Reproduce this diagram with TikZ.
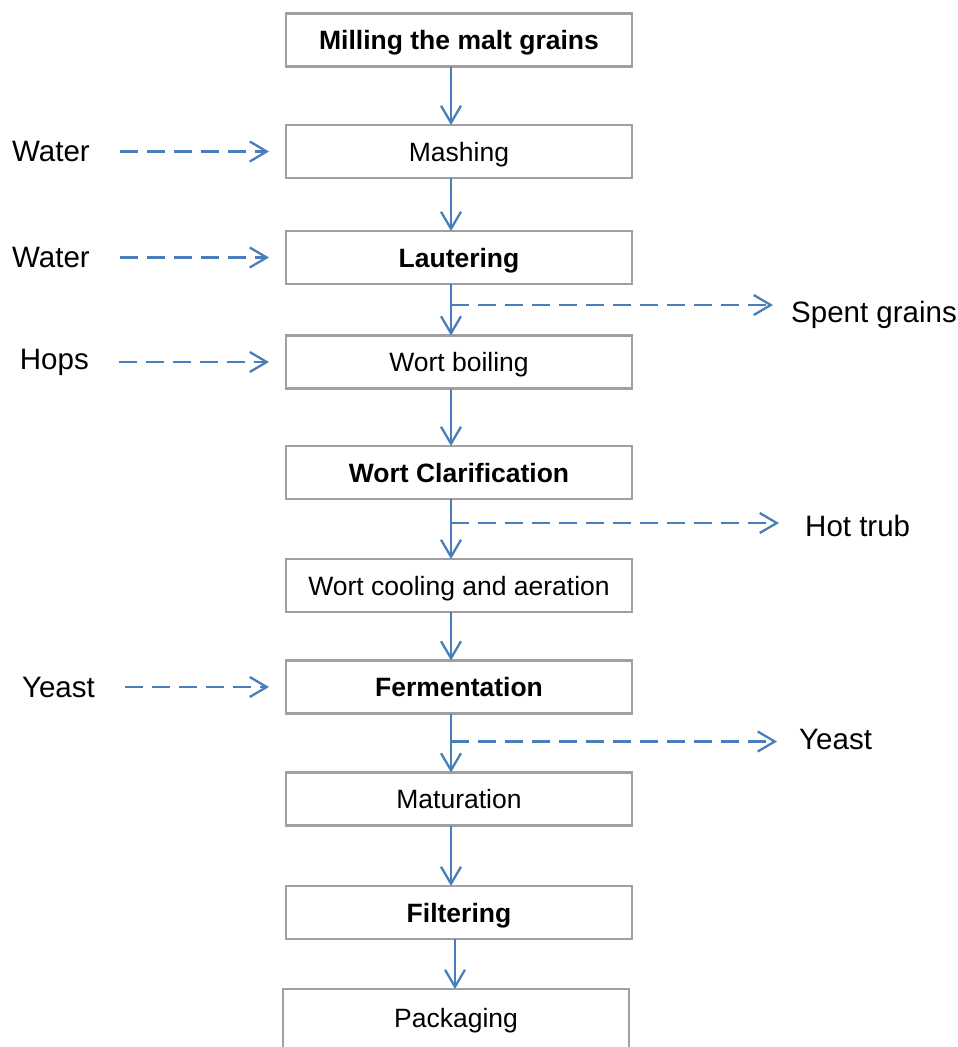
\documentclass[tikz,border=0pt]{standalone}
\usepackage{fontspec}
\setmainfont{Liberation Sans}
\usetikzlibrary{positioning, arrows.meta, calc}
\definecolor{cFLOW}{HTML}{4A7EBB}
\definecolor{cEDGE}{HTML}{A0A0A0}
\tikzset{
  stepbox/.style={
    draw=cEDGE, line width=2.5pt,
    fill=white,
    text=black,
    inner sep=0pt,
    outer sep=0pt,
    minimum width=346pt,
    minimum height=53pt,
    text height=19pt,
    text depth=0pt,
    font=\fontsize{26.5}{30}\selectfont
  },
  boldbox/.style={
    stepbox,
    font=\fontsize{26.5}{30}\selectfont\bfseries
  },
  flow/.style={
    -{Straight Barb[length=17pt,width=20pt]},
    line width=2.3pt,
    draw=cFLOW
  },
  feed/.style={
    flow,
    dash pattern=on 18pt off 9pt
  },
  feedin/.style={
    feed,
    shorten <=30pt,
    shorten >=17pt
  },
  sidelabel/.style={
    inner sep=0pt,
    text=black,
    font=\fontsize{29.5}{34}\selectfont
  }
}

\begin{document}
\begin{tikzpicture}
  \useasboundingbox (0,0) rectangle (958pt,-1047pt);

  \node[boldbox] (mill) at (459pt,-40pt) {Milling the malt grains};
  \node[stepbox, below=58.5pt of mill] (mash) {Mashing};
  \node[boldbox, below=53pt of mash] (laut) {Lautering};
  \node[stepbox, below=51.5pt of laut] (boil) {Wort boiling};
  \node[boldbox, below=57.5pt of boil] (clar) {Wort Clarification};
  \node[stepbox, below=60pt of clar] (cool) {Wort cooling and aeration};
  \node[boldbox, below=48.5pt of cool] (ferm) {Fermentation};
  \node[stepbox, below=59pt of ferm] (matu) {Maturation};
  \node[boldbox, below=60.5pt of matu] (filt) {Filtering};
  \node[stepbox, below=50pt of filt, xshift=-3pt,
        minimum height=0pt, text height=38pt, text depth=40pt] (pack) {Packaging};

  \draw[flow] ([xshift=-8pt]mill.south) -- ([xshift=-8pt]mash.north);
  \draw[flow] ([xshift=-8pt]mash.south) -- ([xshift=-8pt]laut.north);
  \draw[flow] ([xshift=-8pt]laut.south) -- ([xshift=-8pt]boil.north);
  \draw[flow] ([xshift=-8pt]boil.south) -- ([xshift=-8pt]clar.north);
  \draw[flow] ([xshift=-8pt]clar.south) -- ([xshift=-8pt]cool.north);
  \draw[flow] ([xshift=-8pt]cool.south) -- ([xshift=-8pt]ferm.north);
  \draw[flow] ([xshift=-8pt]ferm.south) -- ([xshift=-8pt]matu.north);
  \draw[flow] ([xshift=-8pt]matu.south) -- ([xshift=-8pt]filt.north);
  \draw[flow] ([xshift=-4pt]filt.south) -- ([xshift=-1pt]pack.north);

  \node[sidelabel, left=196pt of mash] (water1) {Water};
  \node[sidelabel, left=196pt of laut] (water2) {Water};
  \node[sidelabel, left=197pt of boil] (hops) {Hops};
  \node[sidelabel, left=191pt of ferm] (yeastin) {Yeast};

  \draw[feedin] (water1) -- (mash);
  \draw[feedin] (water2) -- (laut);
  \draw[feedin] (hops) -- (boil);
  \draw[feedin] (yeastin) -- (ferm);

  \coordinate (grainsout) at ($(laut.south)+(-8pt,-21pt)$);
  \coordinate (trubout) at ($(clar.south)+(-8pt,-24pt)$);
  \coordinate (yeastout) at ($(ferm.south)+(-8pt,-28pt)$);

  \node[sidelabel, anchor=base west] (spent) at ($(grainsout)+(340pt,-17pt)$) {Spent grains};
  \node[sidelabel, anchor=base west] (trub) at ($(trubout)+(354pt,-13pt)$) {Hot trub};
  \node[sidelabel, anchor=base west] (yeast) at ($(yeastout)+(348pt,-8pt)$) {Yeast};

  \draw[feed, shorten >=18pt] (grainsout) -- (grainsout -| spent.west);
  \draw[feed, shorten >=26pt] (trubout) -- (trubout -| trub.west);
  \draw[feed, shorten >=22pt] (yeastout) -- (yeastout -| yeast.west);
\end{tikzpicture}
\end{document}
